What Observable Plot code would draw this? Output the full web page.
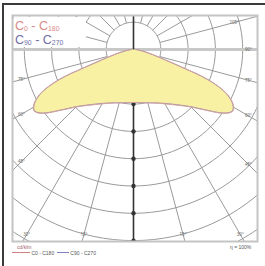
<!DOCTYPE html>
<html><head><meta charset="utf-8">
<script src="https://cdn.jsdelivr.net/npm/d3@7"></script>
<script src="https://cdn.jsdelivr.net/npm/@observablehq/plot@0.6"></script>
<style>
body{margin:0;background:#fff;}
#wrap{position:relative;width:265px;height:266px;overflow:hidden;font-family:"Liberation Sans",Arial,sans-serif;}
#wrap svg{position:absolute;left:0;top:0;}
.bf{position:absolute;background:#3a3a3a;}
.t{position:absolute;white-space:nowrap;line-height:1;}
.t sub{font-size:55%;vertical-align:-1px;}
.box{position:absolute;background:#fff;}
</style></head><body>
<div id="wrap"></div>
<script>
// luminous intensity (cd/klm) by gamma angle
const gammaDeg = [0, 10, 20, 30, 40, 45, 50, 55, 58, 60, 62, 65, 68, 70, 75, 80, 85, 90];
const c0c180  = [97, 99, 104, 115, 134, 149, 173, 204, 214, 212, 205, 186, 147, 92, 37, 18, 9, 4];
const c90c270 = [97, 99, 104, 114, 133, 148, 172, 203, 213, 211, 204, 185, 146, 91, 36, 17, 8, 4];
const ringValues = [50, 100, 150, 200, 250, 300, 350, 400, 450];
const spokeAngles = d3.range(0, 360, 15);
// edge angle labels: side -1 = left, 1 = right
const edgeLabels = ["15°", "30°", "45°", "60°", "75°", "15°", "30°", "45°", "60°", "75°", "90°", "105°"];
const edgeLabelAngles = [15, 30, 45, 60, 75, 15, 30, 45, 60, 75, 90, 105];
const edgeLabelSides = [-1, -1, -1, -1, -1, 1, 1, 1, 1, 1, 1, 1];

const k = 0.546;                // px per cd/klm
const cx = 133, cy = 49;        // pole position in px
const L = 12, R = 257, T = 15, B = 241;
const xDom = [(L - cx) / k, (R - cx) / k];
const yDom = [(cy - B) / k, (cy - T) / k];

const rad = d => d * Math.PI / 180;
function curve(vals) {
  const pts = [];
  for (let i = gammaDeg.length - 1; i >= 0; i--) pts.push({x: -vals[i] * Math.sin(rad(gammaDeg[i])), y: -vals[i] * Math.cos(rad(gammaDeg[i]))});
  for (let i = 1; i < gammaDeg.length; i++) pts.push({x: vals[i] * Math.sin(rad(gammaDeg[i])), y: -vals[i] * Math.cos(rad(gammaDeg[i]))});
  return pts;
}
const curveA = curve(c0c180), curveB = curve(c90c270);

const rings = [];
ringValues.forEach(r => { for (let a = 0; a <= 360; a += 3) rings.push({r, x: r * Math.sin(rad(a)), y: -r * Math.cos(rad(a))}); });
const Rmax = 900, R0 = ringValues[0];
const spokes = spokeAngles.filter(a => a % 90 !== 0).map(a => ({
  x1: R0 * Math.sin(rad(a)), y1: -R0 * Math.cos(rad(a)),
  x2: Rmax * Math.sin(rad(a)), y2: -Rmax * Math.cos(rad(a))}));

const labels = [];
const inx = 9 / k, iny = 7 / k;
edgeLabelAngles.forEach((a, i) => {
  const s = edgeLabelSides[i];
  const dx = Math.sin(rad(a)) * s, dy = -Math.cos(rad(a));
  let t = Math.abs((s < 0 ? xDom[0] + inx : xDom[1] - inx) / dx);
  if (dy < 0) t = Math.min(t, (yDom[0] + iny) / dy);
  if (dy > 0) t = Math.min(t, (yDom[1] - iny) / dy);
  labels.push({x: dx * t, y: dy * t, label: edgeLabels[i]});
});

const plot = Plot.plot({
  width: 265, height: 266,
  marginLeft: L, marginRight: 265 - R, marginTop: T, marginBottom: 266 - B,
  x: {domain: xDom, axis: null},
  y: {domain: yDom, axis: null},
  style: {background: "transparent"},
  marks: [
    Plot.line(rings, {x: "x", y: "y", z: "r", stroke: "#9a9a9a", strokeWidth: 1, clip: "frame"}),
    Plot.link(spokes, {x1: "x1", y1: "y1", x2: "x2", y2: "y2", stroke: "#9a9a9a", strokeWidth: 1, clip: "frame"}),
    Plot.ruleY([0], {stroke: "#c8c8c8", strokeWidth: 3}),
    Plot.ruleX([0], {stroke: "#333", strokeWidth: 1.6}),
    Plot.dot(ringValues, {x: 0, y: d => -d, r: 2.2, fill: "#333", stroke: "none", clip: "frame"}),
    Plot.line(curveA, {x: "x", y: "y", fill: "#f8f0a2", stroke: "none", curve: "catmull-rom"}),
    Plot.line(curveB, {x: "x", y: "y", stroke: "#9a8ab0", strokeWidth: 1, curve: "catmull-rom"}),
    Plot.line(curveA, {x: "x", y: "y", stroke: "#d4a4a0", strokeWidth: 1, curve: "catmull-rom"}),
    Plot.text(labels, {x: "x", y: "y", text: "label", fontSize: 4.5, fill: "#666"}),
    Plot.frame({stroke: "#c4c4c4", strokeWidth: 2})
  ]
});
const wrap = document.getElementById("wrap");
wrap.appendChild(plot);
wrap.insertAdjacentHTML("beforeend", `
<div class="bf" style="left:2px;top:3px;width:2px;height:263px"></div>
<div class="bf" style="left:2px;top:3px;width:263px;height:2px"></div>
<div class="box" style="left:14px;top:17px;width:72px;height:30px"></div>
<div class="t" style="left:15px;top:20px;font-size:12.5px;color:#d98a8a">C<sub>0</sub> - C<sub>180</sub></div>
<div class="t" style="left:15px;top:34px;font-size:12.5px;color:#6e6ea6">C<sub>90</sub> - C<sub>270</sub></div>
<div class="t" style="left:17px;top:245px;font-size:5px;color:#a06070">cd/klm</div>
<div class="t" style="left:12px;top:251px;font-size:5px;color:#555"><span style="display:inline-block;width:18px;border-top:1px solid #d08080;vertical-align:2px"></span> C0 - C180 &nbsp;<span style="display:inline-block;width:12px;border-top:1px solid #8080c0;vertical-align:2px"></span> C90 - C270</div>
<div class="t" style="left:230px;top:245px;font-size:5px;color:#555">η = 100%</div>
`);
</script>
</body></html>
